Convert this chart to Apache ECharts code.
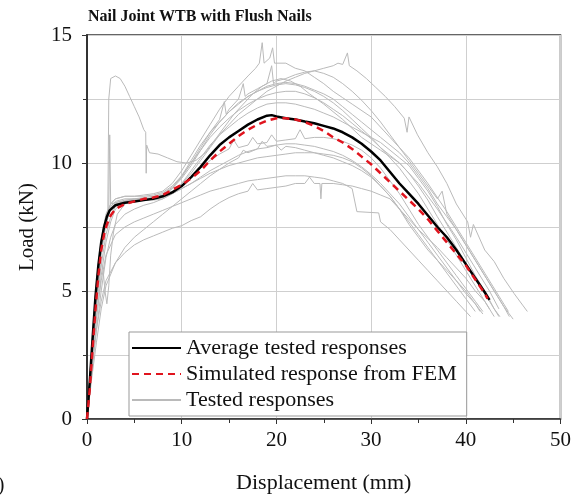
<!DOCTYPE html>
<html>
<head>
<meta charset="utf-8">
<script src="https://cdn.jsdelivr.net/npm/echarts@6/dist/echarts.min.js"></script>
<style>
html,body{margin:0;padding:0;background:#fff;}
#chart{width:574px;height:499px;}
</style>
</head>
<body>
<div id="chart"></div>
<script>
const chartTitle = 'Nail Joint WTB with Flush Nails';
const xAxisName = 'Displacement (mm)';
const yAxisName = 'Load (kN)';
const legendNames = ['Average tested responses', 'Simulated response from FEM', 'Tested responses'];
const xTicks = [0, 10, 20, 30, 40, 50];
const yTicks = [0, 5, 10, 15];

const averageResponse = [[0,0],[0.3,1.5],[0.6,3.2],[0.9,4.8],[1.2,6.0],[1.5,6.9],[1.8,7.5],[2.1,7.9],[2.4,8.15],[3,8.35],[4,8.45],[5,8.5],[6,8.55],[7,8.6],[8,8.7],[9,8.85],[10,9.1],[11,9.45],[12,9.85],[13,10.3],[14,10.7],[15,11.0],[16,11.25],[17,11.5],[18,11.7],[19,11.85],[19.5,11.87],[20,11.82],[21,11.75],[22,11.7],[23,11.62],[24,11.55],[25,11.45],[26,11.35],[27,11.2],[28,11.0],[29,10.75],[30,10.45],[31,10.1],[32,9.65],[33,9.2],[34,8.8],[35,8.4],[36,7.95],[37,7.5],[38,7.1],[39,6.6],[40,6.05],[41,5.5],[42,4.95],[42.5,4.65]];

const femResponse = [[0,0],[0.3,1.2],[0.6,2.8],[0.9,4.3],[1.2,5.6],[1.5,6.6],[1.8,7.2],[2.1,7.6],[2.5,7.95],[3,8.2],[4,8.4],[5,8.5],[6,8.6],[7,8.65],[8,8.75],[9,8.95],[10,9.15],[11,9.4],[12,9.7],[13,10.1],[14,10.45],[15,10.75],[16,11.05],[17,11.3],[18,11.5],[19,11.65],[20,11.75],[21,11.75],[22,11.7],[23,11.6],[24,11.45],[25,11.25],[26,11.0],[27,10.8],[28,10.55],[29,10.25],[30,9.95],[31,9.6],[32,9.25],[33,8.9],[34,8.55],[35,8.2],[36,7.8],[37,7.35],[38,6.9],[39,6.45],[40,6.0],[41,5.45],[42,4.9],[42.3,4.7]];

const tested01 = [[0,0],[0.5,2.5],[1,4.8],[1.5,6.6],[2,7.8],[2.2,8.2],[2.3,12.5],[2.5,13.3],[3,13.4],[3.5,13.3],[4,13.0],[4.5,12.6],[5,12.2],[5.5,11.8],[6,11.3],[6.2,11.2],[6.25,9.6],[6.3,10.7],[6.6,10.4],[7.5,10.35],[8.5,10.2],[9.5,10.05],[10.5,10.0],[11.5,10.1],[12.5,10.4],[13.5,10.9],[14.5,11.4],[15.5,11.9],[16.5,12.3],[17.5,12.7],[18.5,13.0],[19.5,13.2],[20.5,13.3],[21.5,13.2],[22.5,13.0],[23.5,12.7],[25,12.3],[27,11.7],[29,11.0],[31,10.5],[33,10.0],[35,9.2],[37,8.2],[39,7.1],[41,5.9],[42.5,5.0],[43.5,4.3]];
const tested02 = [[0,0],[0.5,2.2],[1,4.3],[1.5,6.0],[2,7.2],[2.5,7.9],[3,8.3],[4,8.5],[5,8.55],[6,8.6],[7,8.6],[8,8.7],[9,8.9],[10,9.2],[11,9.6],[12,10.1],[13,10.6],[14,11.1],[15,11.5],[16,11.9],[17,12.2],[18,12.5],[19,12.8],[20,13.0],[21,13.2],[22,13.35],[23,13.5],[24,13.6],[25,13.7],[26,13.8],[26.5,13.9],[27,13.85],[27.5,14.3],[27.7,13.8],[28.5,13.6],[29.5,13.3],[30.5,12.95],[31.5,12.6],[32.5,12.2],[33.5,11.75],[33.8,11.2],[34,11.8],[34.9,11.1],[36,10.4],[37,9.85],[38,9.2],[39,8.4],[40.2,7.7],[40.5,7.1],[40.8,7.6],[42,6.6],[43,6.15],[44,5.5],[45.1,4.9],[46,4.45],[46.5,4.2]];
const tested03 = [[0,0],[0.5,2.6],[1,5.0],[1.5,6.8],[2,7.9],[2.5,8.4],[3,8.6],[4,8.7],[5,8.7],[6,8.75],[7,8.8],[8,8.9],[9,9.2],[10,9.7],[11,10.3],[12,10.9],[13,11.5],[14,12.1],[15,12.6],[16,13.0],[17,13.4],[17.8,13.7],[18.2,13.9],[18.5,14.7],[18.7,13.9],[19.3,14.1],[19.6,14.5],[19.8,13.9],[21,13.9],[22,13.7],[23,13.6],[24,13.35],[25,13.1],[26,12.8],[27,12.55],[28,12.3],[30,11.8],[32,11.0],[34,10.2],[36,9.2],[38,8.1],[40,6.9],[42,5.7],[43.5,4.8],[44.5,4.2]];
const tested04 = [[0,0],[0.5,2.8],[1,5.3],[1.5,7.0],[2,8.0],[2.5,8.4],[3.5,8.5],[5,8.5],[6.5,8.55],[8,8.7],[9,9.0],[10,9.5],[11,10.1],[12,10.7],[13,11.2],[14,11.6],[15,12.0],[16,12.3],[17,12.6],[18,12.8],[19,13.0],[20,13.1],[21,13.15],[22,13.1],[23,13.0],[24,12.85],[25,12.7],[26,12.5],[27,12.2],[28,11.9],[29,11.6],[30,11.3],[31,11.0],[32,10.7],[33,10.4],[34,10.0],[35,9.5],[36,9.0],[37,8.4],[38,7.9],[39,7.4],[40,6.8],[41,6.2],[42,5.6],[43,5.0],[44,4.4],[44.6,4.0]];
const tested05 = [[0,0],[0.5,2.4],[1,4.6],[1.5,6.4],[2,7.6],[2.5,8.2],[3,8.45],[4,8.55],[5,8.6],[6,8.6],[7,8.6],[8,8.65],[9,8.85],[10,9.2],[11,9.7],[12,10.2],[13,10.7],[14,11.1],[15,11.4],[16,11.7],[17,11.95],[18,12.15],[19,12.3],[20,12.35],[21,12.35],[22,12.3],[23,12.2],[24,12.1],[25,11.95],[26,11.8],[27,11.6],[28,11.4],[29,11.2],[30,11.0],[31,10.8],[32,10.5],[33,10.2],[34,9.9],[35,9.4],[36,8.9],[37,8.3],[38,7.6],[39,7.0],[40,6.3],[41,5.6],[42,5.0],[43,4.3],[43.5,4.0]];
const tested06 = [[0,0],[0.5,2.0],[1,3.9],[1.5,5.6],[2,6.9],[2.5,7.7],[3,8.2],[4,8.5],[5,8.6],[6,8.6],[7,8.55],[8,8.6],[9,8.8],[10,9.1],[11,9.45],[12,9.8],[13,10.1],[14,10.35],[15,10.55],[15.5,10.9],[16,10.6],[17,10.7],[17.5,11.0],[18,10.75],[19,10.8],[19.5,11.1],[20,10.85],[21,10.9],[22,10.95],[22.5,11.3],[23,10.95],[24,11.0],[25,11.0],[26,10.95],[27,10.85],[28,10.7],[29,10.5],[30,10.2],[31,9.8],[32,9.3],[33,8.8],[34,8.2],[35,7.6],[36,7.1],[37,6.6],[38,6.1],[39,5.6],[40,5.1],[41,4.6],[41.8,4.2]];
const tested07 = [[0,0],[0.5,1.8],[1,3.5],[1.5,5.0],[2,6.3],[2.5,7.1],[3,7.6],[4,8.0],[5,8.2],[6,8.35],[7,8.45],[8,8.6],[9,8.8],[10,9.0],[11,9.2],[12,9.4],[13,9.6],[14,9.75],[15,9.9],[16,10.0],[17,10.1],[18,10.2],[19,10.25],[20,10.3],[21,10.35],[22,10.4],[23,10.4],[24,10.4],[25,10.35],[26,10.3],[27,10.2],[28,10.05],[29,9.8],[30,9.5],[31,9.1],[32,8.7],[33,8.2],[34,7.6],[35,7.1],[36,6.6],[37,6.2],[38,5.8],[39,5.4],[40,5.0],[41,4.5],[41.5,4.2]];
const tested08 = [[0,0],[0.5,2.0],[1,3.5],[1.5,4.6],[2,5.4],[3,6.1],[4,6.5],[5,6.8],[6,7.0],[7,7.15],[8,7.3],[9,7.45],[10,7.55],[11,7.75],[12,7.9],[13,8.2],[14,8.45],[15,8.65],[16,8.8],[17,8.9],[17.5,9.2],[18,8.95],[19,9.0],[20,9.05],[21,9.1],[22,9.2],[23,9.2],[23.5,9.45],[24,9.2],[24.6,9.2],[24.7,8.6],[24.8,9.2],[25,9.2],[26,9.2],[27,9.15],[28,9.1],[29,9.0],[30,8.9],[31,8.75],[32,8.6],[33,8.2],[34,7.8],[35,7.4],[36,7.05],[37,6.7],[38,6.3],[39,5.9],[40,5.5],[41,5.0],[42,4.6],[42.5,4.3]];
const tested09 = [[0,0],[0.5,2.2],[1,4.0],[1.5,5.4],[2,6.4],[3,7.2],[4,7.5],[5,7.7],[6,7.85],[7,8.0],[8,8.15],[9,8.3],[10,8.45],[11,8.6],[12,8.75],[13,8.9],[14,9.0],[15,9.1],[16,9.2],[17,9.3],[18,9.35],[19,9.4],[20,9.45],[21,9.5],[22,9.5],[23,9.5],[24,9.45],[25,9.4],[26,9.3],[27,9.2],[28,9.0],[28.5,8.1],[30.8,8.05],[31,7.7],[32,7.4],[33,7.0],[34,6.6],[35,6.2],[36,5.8],[37,5.4],[38,5.0],[39,4.6],[40,4.2],[40.5,4.0]];
const tested10 = [[0,0],[0.5,2.8],[1,5.4],[1.5,7.0],[2,7.9],[2.5,8.25],[3,8.4],[4,8.5],[5,8.55],[6,8.6],[7,8.6],[8,8.65],[9,8.8],[10,9.0],[11,9.2],[12,9.45],[13,9.7],[14,9.9],[15,10.1],[16,10.3],[17,10.45],[18,10.55],[19,10.6],[20,10.7],[21,10.75],[22,10.75],[23,10.7],[24,10.65],[25,10.55],[26,10.45],[27,10.3],[28,10.1],[29,9.85],[30,9.55],[31,9.2],[32,8.8],[33,8.4],[34,7.9],[35,7.4],[36,6.9],[37,6.4],[38,5.9],[39,5.4],[40,4.9],[41,4.5],[41.8,4.1]];
const tested11 = [[0,0],[0.5,2.6],[1,5.0],[1.5,6.7],[2,7.8],[2.3,8.2],[2.4,11.1],[2.5,8.4],[3,8.6],[4,8.7],[5,8.7],[6,8.7],[7,8.75],[8,8.85],[9,9.1],[10,9.5],[11,10.0],[12,10.5],[13,11.0],[14,11.4],[15,11.75],[16,12.05],[17,12.3],[18,12.5],[19,12.65],[20,12.75],[21,12.8],[22,12.8],[23,12.7],[24,12.55],[25,12.35],[26,12.1],[27,11.85],[28,11.55],[29,11.25],[30,10.95],[31,10.6],[32,10.3],[33,10.0],[34,9.6],[35,9.1],[36,8.55],[37,7.9],[38,7.3],[39,6.7],[40,6.1],[41,5.5],[42,4.9],[43,4.3],[43.6,4.0]];
const tested12 = [[0,0],[0.4,2.0],[0.8,3.8],[1.2,5.3],[1.5,6.1],[1.7,5.8],[1.9,5.0],[2.1,4.5],[2.3,5.2],[2.5,6.4],[2.8,7.3],[3.2,8.0],[4,8.4],[5,8.55],[6,8.6],[7,8.65],[8,8.75],[9,9.0],[10,9.4],[11,9.9],[12,10.5],[13,11.1],[14,11.6],[15,12.0],[16,12.35],[17,12.6],[18,12.8],[19,12.95],[20,13.05],[21,13.1],[22,13.05],[23,12.95],[24,12.8],[25,12.6],[26,12.35],[27,12.05],[28,11.7],[29,11.35],[30,11.0],[31,10.6],[32,10.2],[33,9.8],[34,9.3],[35,8.8],[36,8.2],[37,7.6],[38,7.0],[39,6.4],[40,5.8],[41,5.2],[42,4.6],[43,4.0]];
const tested13 = [[0,0],[0.5,2.5],[1,4.9],[1.5,6.7],[2,7.8],[2.5,8.3],[3,8.5],[4,8.6],[5,8.6],[6,8.65],[7,8.7],[8,8.8],[9,9.05],[10,9.45],[11,10.0],[12,10.6],[13,11.2],[14,11.7],[14.5,12.4],[14.7,11.9],[15,12.1],[16,12.5],[16.5,13.1],[16.7,12.6],[17,12.7],[18,12.9],[19,13.1],[19.5,13.8],[19.7,13.1],[20,13.2],[21,13.3],[22,13.45],[23,13.55],[24,13.6],[25,13.5],[26,13.35],[27,13.1],[28,12.8],[29,12.45],[30,12.05],[31,11.6],[32,11.1],[33,10.6],[34,10.1],[35,9.6],[36,9.1],[37,8.6],[37.5,8.9],[38,8.0],[39,7.4],[40,6.8],[41,6.2],[42,5.6],[43,5.0],[44,4.4],[45,3.9]];
const tested14 = [[0,0],[0.5,1.6],[1,3.0],[1.5,4.3],[2,5.2],[3,6.1],[4,6.7],[5,7.1],[6,7.4],[7,7.7],[8,8.0],[9,8.3],[10,8.6],[11,8.9],[12,9.2],[13,9.5],[14,9.75],[15,10.0],[16,10.2],[16.5,10.5],[17,10.4],[18,10.55],[18.5,10.85],[19,10.65],[20,10.7],[20.5,10.5],[21,10.65],[22,10.6],[23,10.5],[24,10.4],[25,10.3],[26,10.2],[27,10.05],[28,9.9],[29,9.7],[30,9.45],[31,9.1],[32,8.7],[33,8.2],[34,7.7],[35,7.2],[36,6.7],[37,6.2],[38,5.7],[39,5.2],[40,4.7],[41,4.2]];

const testedCurves = [tested01, tested02, tested03, tested04, tested05, tested06, tested07, tested08, tested09, tested10, tested11, tested12, tested13, tested14];

const serif = 'Liberation Serif';
const chart = echarts.init(document.getElementById('chart'));

const series = testedCurves.map(d => ({
  name: legendNames[2], type: 'line', data: d, showSymbol: false, symbol: 'none',
  lineStyle: { color: '#bababa', width: 1 }, itemStyle: { color: '#bababa' }, z: 2, silent: true
}));
series.push({
  name: legendNames[0], type: 'line', data: averageResponse, showSymbol: false, symbol: 'none',
  lineStyle: { color: '#000', width: 2.5 }, itemStyle: { color: '#000' }, z: 3
});
series.push({
  name: legendNames[1], type: 'line', data: femResponse, showSymbol: false, symbol: 'none',
  lineStyle: { color: '#e0141e', width: 2.5, type: [7, 5] }, itemStyle: { color: '#e0141e' }, z: 4
});

chart.setOption({
  animation: false,
  backgroundColor: '#fff',
  title: {
    text: chartTitle, left: 83, top: 4,
    textStyle: { fontFamily: serif, fontWeight: 'bold', fontSize: 16, color: '#111' }
  },
  graphic: [{
    type: 'text', left: -19, top: 476,
    style: { text: '(b)', font: '20px "Liberation Serif"', fill: '#111' }
  }],
  grid: { left: 87, right: 13, top: 35, bottom: 71, show: true, borderColor: '#333', borderWidth: 1.5, backgroundColor: 'transparent' },
  legend: {
    data: legendNames, orient: 'vertical', left: 129, top: 332,
    backgroundColor: '#fff', borderColor: '#999', borderWidth: 1, borderRadius: 0,
    padding: [5, 10, 5, 2], itemWidth: 49, itemHeight: 14, itemGap: 4,
    itemStyle: { opacity: 0 },
    textStyle: { fontFamily: serif, fontSize: 22, color: '#111', lineHeight: 22 }
  },
  xAxis: {
    type: 'value', min: xTicks[0], max: xTicks[xTicks.length - 1], interval: 10,
    name: xAxisName, nameLocation: 'middle', nameGap: 53,
    nameTextStyle: { fontFamily: serif, fontSize: 22, color: '#111' },
    axisLine: { show: true, lineStyle: { color: '#333', width: 1.5 } },
    axisTick: { show: true, inside: false, length: 5, lineStyle: { color: '#333' } },
    minorTick: { show: true, splitNumber: 2, length: 4, lineStyle: { color: '#333' } },
    splitLine: { show: true, lineStyle: { color: '#cfcfcf', width: 1 } },
    axisLabel: { fontFamily: serif, fontSize: 21, color: '#111', margin: 11 }
  },
  yAxis: {
    type: 'value', min: yTicks[0], max: yTicks[yTicks.length - 1], interval: 5,
    name: yAxisName, nameLocation: 'middle', nameGap: 49,
    nameTextStyle: { fontFamily: serif, fontSize: 21, color: '#111' },
    axisLine: { show: true, lineStyle: { color: '#333', width: 2 } },
    axisTick: { show: true, inside: false, length: 5, lineStyle: { color: '#333' } },
    minorTick: { show: true, splitNumber: 2, length: 4, lineStyle: { color: '#333' } },
    splitLine: { show: true, lineStyle: { color: '#cfcfcf', width: 1 } },
    minorSplitLine: { show: true, lineStyle: { color: '#cfcfcf', width: 1 } },
    axisLabel: { fontFamily: serif, fontSize: 21, color: '#111', margin: 15 }
  },
  series: series
});
</script>
</body>
</html>
